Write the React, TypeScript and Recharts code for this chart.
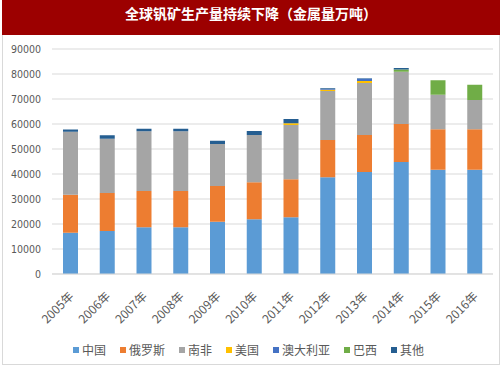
import { BarChart, Bar, XAxis, YAxis, CartesianGrid, Legend } from "recharts";

const years = ["2005年", "2006年", "2007年", "2008年", "2009年", "2010年", "2011年", "2012年", "2013年", "2014年", "2015年", "2016年"];
const china = [16500, 17200, 18700, 18700, 20900, 21900, 22700, 38700, 40800, 44800, 41700, 41700];
const russia = [15200, 15200, 14500, 14500, 14300, 14800, 15200, 14900, 14800, 15200, 16200, 16200];
const southAfrica = [25200, 21700, 23900, 23900, 16800, 18900, 21700, 19600, 20800, 20900, 13800, 11700];
const usa = [0, 0, 0, 0, 0, 0, 700, 500, 800, 0, 0, 0];
const australia = [0, 0, 0, 0, 0, 0, 0, 300, 900, 0, 0, 0];
const brazil = [0, 0, 0, 0, 0, 0, 0, 0, 0, 900, 5800, 6100];
const other = [900, 1400, 1000, 1000, 1300, 1600, 1700, 300, 200, 600, 0, 0];
const yTicks = [0, 10000, 20000, 30000, 40000, 50000, 60000, 70000, 80000, 90000];

const series = [
  { key: "中国", values: china, color: "#5B9BD5" },
  { key: "俄罗斯", values: russia, color: "#ED7D31" },
  { key: "南非", values: southAfrica, color: "#A5A5A5" },
  { key: "美国", values: usa, color: "#FFC000" },
  { key: "澳大利亚", values: australia, color: "#4472C4" },
  { key: "巴西", values: brazil, color: "#70AD47" },
  { key: "其他", values: other, color: "#255E91" },
];

const data = years.map((year, i) => {
  const row: Record<string, string | number> = { year };
  series.forEach((s) => {
    row[s.key] = s.values[i];
  });
  return row;
});

const numFont = "'Liberation Sans Narrow', 'DejaVu Sans Condensed', 'Liberation Sans', sans-serif";
const cjkFont = "'Liberation Sans Narrow', 'Noto Sans CJK SC', sans-serif";

// legend in the same order as the series, Excel style
const renderLegend = () => (
  <div
    style={{
      display: "flex",
      justifyContent: "center",
      fontSize: 12,
      fontFamily: "'Noto Sans CJK SC', sans-serif",
      color: "#595959",
      lineHeight: "20px",
      paddingLeft: 10,
    }}
  >
    {series.map((s) => (
      <span key={s.key} style={{ display: "flex", alignItems: "center", marginRight: 14 }}>
        <span style={{ width: 6, height: 6, background: s.color, marginRight: 3 }} />
        {s.key}
      </span>
    ))}
  </div>
);

export default function App() {
  return (
    <div
      style={{
        position: "absolute",
        left: 0,
        top: 0,
        width: 503,
        height: 378,
        background: "#fff",
      }}
    >
      <div
        style={{
          position: "absolute",
          left: 2,
          top: 0,
          width: 496,
          height: 363,
          border: "1px solid #D9D9D9",
        }}
      />
      <div
        style={{
          position: "absolute",
          left: 2,
          top: 0,
          width: 498,
          height: 35,
          background: "#9C0000",
          color: "#fff",
          fontFamily: "'Noto Sans CJK SC', sans-serif",
          fontWeight: "bold",
          fontSize: 14,
          textAlign: "center",
          lineHeight: "26px",
        }}
      >
        全球钒矿生产量持续下降（金属量万吨）
      </div>
      <div style={{ position: "absolute", left: 0, top: 0 }}>
        <BarChart
          width={503}
          height={378}
          data={data}
          margin={{ top: 49, right: 10, left: 8, bottom: 18 }}
          barSize={15}
        >
          <CartesianGrid vertical={false} stroke="#D9D9D9" />
          <XAxis
            dataKey="year"
            interval={0}
            angle={-45}
            textAnchor="end"
            height={66}
            tickLine={false}
            axisLine={{ stroke: "#D9D9D9" }}
            tick={{ fill: "#595959", fontSize: 12, fontFamily: cjkFont, dx: -2 }}
            tickMargin={11}
          />
          <YAxis
            width={44}
            domain={[0, 90000]}
            ticks={yTicks}
            axisLine={false}
            tickLine={false}
            tickMargin={5}
            tick={{ fill: "#595959", fontSize: 10.5, fontFamily: numFont }}
          />
          <Legend verticalAlign="bottom" content={renderLegend} />
          {series.map((s) => (
            <Bar
              key={s.key}
              dataKey={s.key}
              stackId="a"
              fill={s.color}
              isAnimationActive={false}
            />
          ))}
        </BarChart>
      </div>
    </div>
  );
}
